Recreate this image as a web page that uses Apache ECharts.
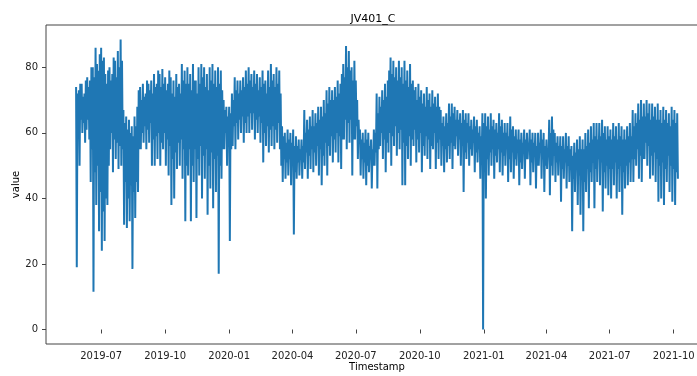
<!DOCTYPE html>
<html>
<head>
<meta charset="utf-8">
<script src="https://cdn.jsdelivr.net/npm/echarts@6/dist/echarts.min.js"></script>
<style>
  html, body { margin: 0; padding: 0; background: #fff; }
  #chart { width: 697px; height: 376px; }
</style>
</head>
<body>
<div id="chart"></div>
<script>
// JV401_C sensor readings, one peak and one trough every 2 days from 2019-05-26:
// highs[j] is the reading on day 2j, lows[j] the reading on day 2j + 1.
const startDate = [2019, 4, 26];
const stepDays = 2;

const highs = [
  74,72, 73,75, 75,71, 72,76, 77,74, 76,80, 80,77, 86,81, 79,84, 86,82,
  83,78, 75,79, 80,76, 78,83, 82,77, 85,80, 88.5,82, 67,63, 65,61, 64,60,
  62,59, 65,62, 68,73, 74,70, 75,71, 72,76, 75,73, 76,72, 78,74, 75,79,
  78,74, 79.5,75, 77,73, 75,79, 77,72, 76,71, 78,74, 75,72, 81,76, 79,75,
  80,75, 78,73, 81,76, 76,72, 80,75, 81,77, 80,74, 78,73, 80,76, 81,75,
  79,74, 80,75, 79,73, 70,67, 68,65, 68,66, 72,70, 77,73, 76,72, 76,73,
  77,74, 79,75, 80,76, 78,74, 79,75, 78,73, 77,74, 79,75, 76,72, 79,74,
  81,76, 78,74, 80,75, 79,72, 62,59, 60,57, 61,58, 60,57, 61,56, 59,56,
  58,55, 58,56, 67,60, 64,61, 65,62, 67,62, 66,63, 68,64, 68,65, 70,66,
  73,69, 74,70, 73,70, 74,71, 76,72, 75,78, 81,77, 86.5,80, 85,79, 80,76,
  82,76, 70,64, 61,58, 60,57, 61,58, 60,56, 58,55, 61,60, 72,66, 71,68,
  73,70, 75,71, 76,79, 83,78, 82,77, 80,76, 82,77, 80,75, 82,76, 79,74,
  81,75, 76,73, 74,70, 75,71, 73,69, 72,68, 74,70, 72,68, 73,69, 71,68,
  72,68, 67,63, 65,62, 66,63, 69,65, 69,66, 68,64, 67,64, 66,63, 67,64,
  66,63, 66,62, 64,61, 65,62, 64,60, 62,59, 66,63, 66,62, 65,61, 66,62,
  64,61, 63,60, 66,62, 64,60, 63,60, 63,59, 65,61, 62,59, 61,58, 61,58,
  60,57, 61,58, 60,57, 61,58, 60,57, 60,56, 60,57, 61,58, 60,56, 58,55,
  64,60, 65,61, 60,57, 59,56, 59,56, 59,55, 60,56, 59,55, 56,53, 57,54,
  58,55, 59,55, 58,55, 60,56, 61,57, 62,58, 63,59, 63,58, 63,59, 64,60,
  62,58, 62,59, 61,58, 63,59, 62,58, 63,59, 62,58, 61,58, 62,59, 63,59,
  67,62, 66,63, 69,64, 70,65, 69,65, 70,66, 69,64, 69,65, 68,64, 69,64,
  67,63, 68,64, 67,63, 66,62, 68,64, 67,63, 66
];

const lows = [
  19,62, 50,64, 60,63, 57,61, 64,58, 45,55, 11.5,48, 38,50, 30,42, 24,36,
  27,40, 38,50, 55,60, 48,58, 52,57, 49,56, 50,55, 32,45, 31,40, 33,44,
  18.5,42, 34,45, 42,55, 55,60, 57,62, 55,61, 57,63, 50,58, 50,59, 52,60,
  50,57, 55,60, 50,58, 47,56, 38,52, 40,54, 49,57, 50,58, 46,55, 33,50,
  47,55, 33,50, 45,55, 34,52, 47,56, 40,53, 46,55, 35,50, 43,54, 37,52,
  42,53, 17,50, 46,55, 55,60, 50,58, 27,55, 56,62, 55,63, 58,64, 60,65,
  57,63, 60,65, 60,66, 61,66, 58,64, 60,65, 57,63, 51,60, 56,62, 54,61,
  56,62, 55,61, 57,63, 55,50, 45,52, 46,51, 47,52, 44,50, 29,48, 46,51,
  47,52, 46,51, 49,54, 46,53, 49,55, 48,54, 50,56, 47,55, 44,53, 50,57,
  47,56, 53,59, 51,58, 54,60, 51,59, 49,58, 58,64, 55,63, 57,64, 47,58,
  58,62, 52,57, 47,52, 46,51, 44,50, 48,52, 43,50, 50,54, 43,55, 56,60,
  52,58, 48,57, 54,60, 50,59, 56,62, 53,60, 55,61, 44,57, 44,56, 52,59,
  50,58, 56,61, 51,58, 54,60, 48,56, 53,59, 52,58, 49,56, 55,60, 49,57,
  52,58, 50,56, 48,55, 51,56, 52,57, 49,56, 55,59, 53,58, 50,56, 42,54,
  52,57, 50,55, 53,57, 48,54, 51,55, 46,52, 0,48, 40,52, 47,54, 50,55,
  46,53, 51,55, 48,54, 47,53, 50,55, 45,52, 48,54, 46,52, 50,54, 44,51,
  49,54, 46,52, 52,55, 44,51, 48,53, 43,50, 50,54, 46,52, 42,50, 49,53,
  41,50, 47,53, 45,51, 47,52, 39,49, 46,51, 43,50, 45,50, 30,46, 42,49,
  38,47, 35,46, 30,45, 42,49, 37,48, 45,51, 37,49, 45,52, 44,51, 36,48,
  43,50, 41,49, 40,49, 44,51, 40,49, 42,50, 35,48, 43,50, 44,51, 45,52,
  45,52, 50,55, 46,53, 45,52, 52,57, 50,56, 46,53, 47,54, 45,52, 39,50,
  40,51, 38,49, 45,53, 42,50, 39,49, 38,48, 46
];

// Axis ticks
const xTickLabels = ['2019-07', '2019-10', '2020-01', '2020-04', '2020-07',
                     '2020-10', '2021-01', '2021-04', '2021-07', '2021-10'];
const yTickLabels = [0, 20, 40, 60, 80];

const DAY = 86400000;
const utc = (y, m, d) => Date.UTC(y, m, d);
const t0 = utc(startDate[0], startDate[1], startDate[2]);

const series = [];
for (let j = 0; j < highs.length; j++) {
  series.push([t0 + j * stepDays * DAY, highs[j]]);
  series.push([t0 + (j * stepDays + stepDays / 2) * DAY, lows[j]]);
}

const xTicks = xTickLabels.map(s => {
  const [y, m] = s.split('-').map(Number);
  return utc(y, m - 1, 1);
});

// Axis range with a 5% margin around the data
const tFirst = series[0][0];
const tLast = series[series.length - 1][0];
const tPad = (tLast - tFirst) * 0.05;
const vMin = 0, vMax = 88.5;
const vPad = (vMax - vMin) * 0.05;

const FONT = 'DejaVu Sans';
const chart = echarts.init(document.getElementById('chart'), null, { renderer: 'canvas' });

chart.setOption({
  animation: false,
  backgroundColor: '#fff',
  title: {
    text: 'JV401_C',
    left: 368,
    textAlign: 'center',
    top: 9,
    textStyle: { fontFamily: FONT, fontSize: 11, fontWeight: 'normal', color: '#000' }
  },
  grid: {
    left: 46, top: 25, width: 662, height: 319,
    containLabel: false,
    outerBoundsMode: 'none',
    show: true, borderColor: '#444', borderWidth: 1, backgroundColor: 'transparent'
  },
  xAxis: {
    type: 'value',
    min: tFirst - tPad,
    max: tLast + tPad,
    name: 'Timestamp',
    nameLocation: 'middle',
    nameGap: 18,
    nameMoveOverlap: false,
    nameTextStyle: { fontFamily: FONT, fontSize: 10, color: '#000', verticalAlign: 'top' },
    splitLine: { show: false },
    axisLine: { show: false },
    axisTick: {
      show: true, length: 4, inside: false,
      customValues: xTicks,
      lineStyle: { color: '#444', width: 1 }
    },
    axisLabel: {
      show: true, margin: 7,
      customValues: xTicks,
      fontFamily: FONT, fontSize: 10, color: '#222',
      formatter: v => new Date(v).toISOString().slice(0, 7)
    }
  },
  yAxis: {
    type: 'value',
    min: vMin - vPad,
    max: vMax + vPad,
    name: 'value',
    nameLocation: 'middle',
    nameGap: 25,
    nameRotate: 90,
    nameMoveOverlap: false,
    nameTextStyle: { fontFamily: FONT, fontSize: 10, color: '#000' },
    splitLine: { show: false },
    axisLine: { show: false },
    axisTick: {
      show: true, length: 4, inside: false,
      customValues: yTickLabels,
      lineStyle: { color: '#444', width: 1 }
    },
    axisLabel: {
      show: true, margin: 8,
      customValues: yTickLabels,
      fontFamily: FONT, fontSize: 10, color: '#222'
    }
  },
  series: [{
    type: 'line',
    data: series,
    showSymbol: false,
    symbol: 'none',
    sampling: null,
    lineStyle: { color: '#1f77b4', width: 2 },
    emphasis: { disabled: true }
  }]
});
</script>
</body>
</html>
